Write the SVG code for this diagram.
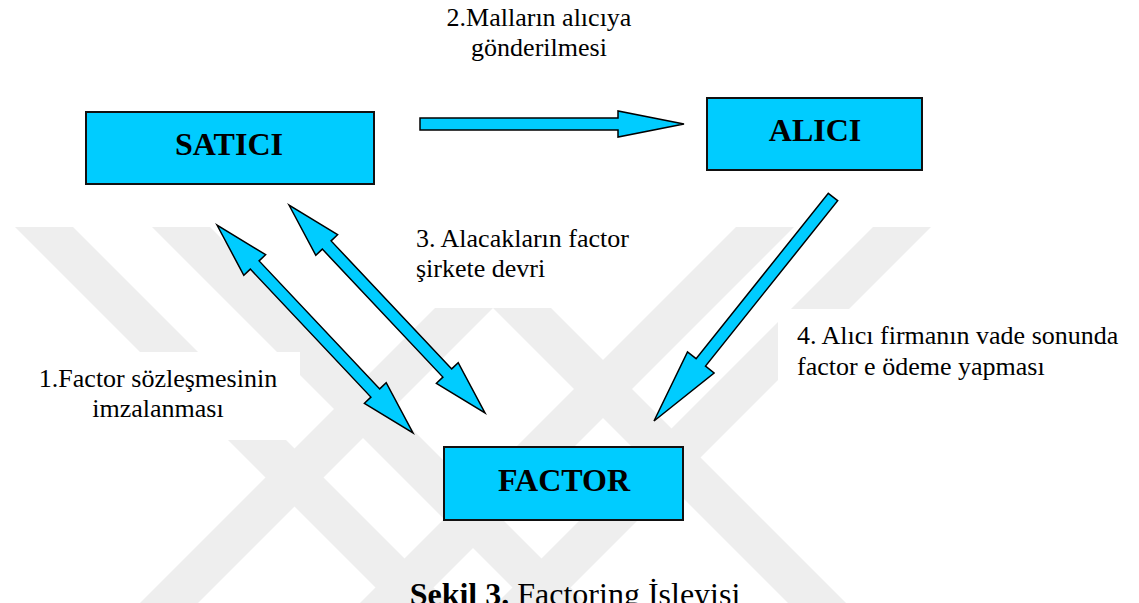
<svg xmlns="http://www.w3.org/2000/svg" width="1139" height="603" viewBox="0 0 1139 603">
<style>
.node rect{fill:#00ccff;stroke:#111;stroke-width:2}
.arr{fill:#00ccff;stroke:#000;stroke-width:1.5;stroke-linejoin:miter}
.bg{fill:#fff}
.wm{fill:#eeeeee}
</style>
<rect width="1139" height="603" fill="#fff"/>
<g id="watermark">
<polygon class="wm" points="15,227 73,227 449,603 391,603"/>
<polygon class="wm" points="152,227 210,227 586,603 528,603"/>
<polygon class="wm" points="736,227 794,227 418,603 360,603"/>
<polygon class="wm" points="873,227 931,227 555,603 497,603"/>
<polygon class="wm" points="435,308 551,308 846,603 788,603 493,308 198,603 140,603"/>
</g>
<g id="label-boxes">
<rect class="bg" x="0" y="352" width="300" height="88"/>
<rect class="bg" x="778" y="309" width="361" height="92"/>
</g>
<g id="connectors">
<polygon id="arrow-2" class="arr" points="420,118 618,118 618,111 684,124 618,137 618,130 420,130"/>
<polygon id="arrow-1" class="arr" points="217,225 243.8,275.3 250.3,269.1 370.9,397.1 364.4,403.3 413,433 386.2,382.7 379.7,388.9 259.1,260.9 265.6,254.7"/>
<polygon id="arrow-3" class="arr" points="289,205 315.8,255.3 322.3,249.1 442.9,377.1 436.4,383.3 485,413 458.2,362.7 451.7,368.9 331.1,240.9 337.6,234.7"/>
<polygon id="arrow-4" class="arr" points="828.3,193.3 837.7,200.7 705.5,366.1 714.1,373 654,421 687.5,351.8 696.1,358.7"/>
</g>
<g font-family="Liberation Serif, Times New Roman, serif" font-weight="bold" font-size="32" text-anchor="middle" fill="#000">
<g id="satici" class="node">
<rect x="86" y="112" width="288" height="72"/>
<text x="229" y="155">SATICI</text>
</g>
<g id="alici" class="node">
<rect x="707" y="98" width="215" height="72"/>
<text x="815" y="141">ALICI</text>
</g>
<g id="factor" class="node">
<rect x="444" y="447" width="239" height="73"/>
<text x="564" y="491">FACTOR</text>
</g>
</g>
<g id="labels" font-family="Liberation Serif, Times New Roman, serif" font-size="26" fill="#000">
<text x="539" y="26" text-anchor="middle">2.Malların alıcıya</text>
<text x="539" y="56" text-anchor="middle">gönderilmesi</text>
<text x="416" y="247">3. Alacakların factor</text>
<text x="416" y="277">şirkete devri</text>
<text x="158" y="387" text-anchor="middle">1.Factor sözleşmesinin</text>
<text x="158" y="417" text-anchor="middle">imzalanması</text>
<text x="797" y="344">4. Alıcı firmanın vade sonunda</text>
<text x="797" y="375">factor e ödeme yapması</text>
</g>
<text id="caption" x="575" y="605" text-anchor="middle" font-family="Liberation Serif, Times New Roman, serif" font-size="32"><tspan font-weight="bold">Şekil 3.</tspan> Factoring İşleyisi</text>
</svg>
